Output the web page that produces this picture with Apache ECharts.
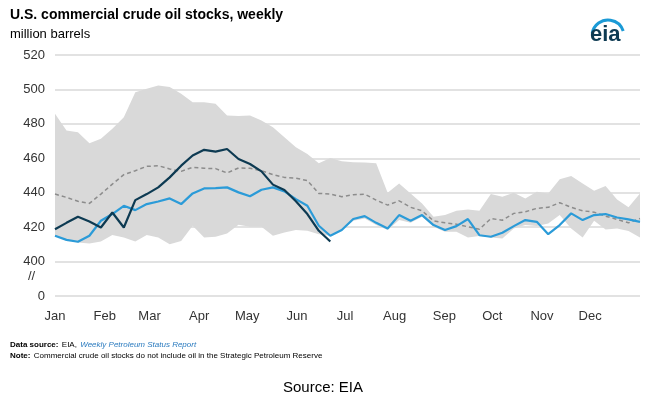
<!DOCTYPE html>
<html>
<head>
<meta charset="utf-8">
<script src="https://cdn.jsdelivr.net/npm/echarts@6/dist/echarts.min.js"></script>
<style>html,body{margin:0;padding:0;background:#fff}#c{width:655px;height:409px}</style>
</head>
<body>
<div id="c"></div>
<script>
// weekly values, million barrels (week index 0..51)
const y2026 = [418.8, 422.5, 426.0, 423.3, 419.8, 428.5, 419.8, 435.7, 439.2, 443.1, 448.9, 455.7, 461.6, 464.9, 463.9, 465.4, 459.6, 456.7, 452.4, 444.7, 441.6, 435.0, 427.6, 417.9, 411.7];
const y2025 = [415.0, 412.6, 411.5, 415.0, 423.7, 427.6, 432.4, 429.9, 433.4, 434.9, 436.7, 433.4, 439.6, 442.5, 442.7, 443.1, 440.2, 437.9, 441.7, 443.1, 440.8, 436.3, 432.4, 420.8, 415.0, 418.3, 424.7,
  426.4, 422.5, 419.2, 427.0, 423.7, 427.0, 421.2, 418.3, 420.6, 424.7, 415.3, 414.4, 416.7, 420.6, 424.1, 423.1, 415.9, 421.2, 428.0, 424.1, 427.0, 427.6, 425.6, 424.5, 423.1];
const avg = [439.2, 437.3, 435.0, 433.8, 439.2, 445.0, 450.5, 452.8, 455.3, 455.7, 453.8, 452.4, 454.8, 454.2, 454.0, 451.5, 454.4, 454.2, 452.8, 450.5, 448.9, 448.5, 447.0, 439.6, 439.2, 437.7, 438.8,
  439.2, 435.7, 432.8, 435.3, 431.5, 429.5, 423.7, 422.5, 421.7, 420.2, 418.8, 425.0, 424.0, 428.0, 428.9, 430.9, 431.5, 434.2, 431.5, 429.5, 428.7, 426.4, 424.5, 422.5, 425.0];
const rangeHigh = [485.8, 476.1, 475.1, 468.7, 471.3, 477.1, 483.9, 498.4, 500.4, 502.3, 501.4, 497.5, 492.6, 492.6, 491.7, 484.9, 484.5, 484.9, 481.9, 478.1, 472.2, 466.4, 462.5, 457.1, 460.2, 458.3, 457.7,
  457.5, 457.1, 440.0, 445.4, 439.6, 433.8, 426.0, 427.0, 429.5, 430.3, 429.5, 439.2, 437.7, 440.0, 436.7, 440.6, 439.6, 447.8, 449.7, 445.4, 441.2, 443.9, 436.1, 431.5, 439.6];
const rangeLow = [415.0, 413.0, 411.1, 410.5, 411.7, 415.5, 414.0, 411.7, 415.5, 414.0, 410.1, 412.0, 420.8, 414.0, 414.4, 416.3, 421.4, 420.2, 420.2, 415.0, 416.9, 418.3, 417.9, 415.9, 415.0, 418.3, 423.7,
  425.0, 421.2, 418.3, 424.1, 422.5, 426.0, 420.2, 417.3, 417.3, 414.0, 414.8, 414.0, 413.4, 419.2, 421.2, 420.6, 422.1, 427.0, 419.2, 414.0, 423.7, 418.6, 419.2, 417.8, 414.0];
const months = ['Jan', 'Feb', 'Mar', 'Apr', 'May', 'Jun', 'Jul', 'Aug', 'Sep', 'Oct', 'Nov', 'Dec'];
const monthWeeks = [0, 4.33, 8.24, 12.57, 16.76, 21.09, 25.28, 29.61, 33.94, 38.13, 42.46, 46.65];
const weeks = rangeHigh.map((v, i) => i);

const diff = rangeHigh.map((h, i) => +(h - rangeLow[i]).toFixed(1));
const font = 'Arial, "Liberation Sans", sans-serif';

const chart = echarts.init(document.getElementById('c'));
chart.setOption({
  animation: false,
  textStyle: { fontFamily: font },
  grid: { left: 55, right: 15, top: 55, bottom: 113 },
  xAxis: [{
    type: 'category', data: weeks, boundaryGap: false,
    axisLine: { show: false }, axisTick: { show: false }, axisLabel: { show: false }, splitLine: { show: false }
  }, {
    type: 'value', min: 0, max: 51, position: 'bottom',
    splitLine: { show: false }, axisLine: { show: false }, axisTick: { show: false },
    axisLabel: {
      customValues: monthWeeks, color: '#333', fontSize: 13, margin: 14,
      formatter: v => months[monthWeeks.findIndex(m => Math.abs(m - v) < 0.01)] || ''
    }
  }],
  yAxis: {
    type: 'value', min: 380, max: 520, interval: 20,
    axisLine: { show: false }, axisTick: { show: false },
    splitLine: { lineStyle: { color: '#d9d9d9', width: 1.5 } },
    axisLabel: { color: '#333', fontSize: 13, margin: 10, formatter: v => v === 380 ? '0' : String(v) }
  },
  series: [
    { type: 'line', data: rangeLow, stack: 'r', symbol: 'none', lineStyle: { opacity: 0 }, silent: true },
    { type: 'line', data: diff, stack: 'r', symbol: 'none', lineStyle: { opacity: 0 }, areaStyle: { color: '#d9d9d9', opacity: 1 }, silent: true },
    { type: 'line', data: avg, symbol: 'none', lineStyle: { color: '#8c8c8c', width: 1.5, type: [4, 3] } },
    { type: 'line', data: y2025, symbol: 'none', lineStyle: { color: '#2b9bd8', width: 2.2 } },
    { type: 'line', data: y2026, symbol: 'none', lineStyle: { color: '#0d3a52', width: 2.2 } }
  ],
  graphic: [
    { type: 'text', left: 10, top: 8, style: { text: 'U.S. commercial crude oil stocks, weekly', font: 'bold 14px ' + font, fill: '#000' } },
    { type: 'text', left: 10, top: 28, style: { text: 'million barrels', font: '13px ' + font, fill: '#000' } },
    { type: 'text', left: 28, top: 270, style: { text: '//', font: '13px ' + font, fill: '#333' } },
    { type: 'text', left: 133, top: 102, style: { text: '2021–2025\nrange', font: '14px ' + font, fill: '#8c8c8c', lineHeight: 17 } },
    { type: 'text', left: 58, top: 152, style: { text: '2021–2025\naverage', font: '14px ' + font, fill: '#595959', lineHeight: 17 } },
    { type: 'text', left: 250, top: 143, style: { text: '2026', font: 'bold 14px ' + font, fill: '#0d3a52' } },
    { type: 'text', left: 210, top: 202, style: { text: '2025', font: 'bold 14px ' + font, fill: '#2b9bd8' } },
    { type: 'arc', shape: { cx: 608, cy: 36, r: 16, startAngle: -Math.PI * 0.95, endAngle: -Math.PI * 0.1 }, style: { stroke: '#1b9ad6', lineWidth: 3, fill: null } },
    { type: 'text', left: 590, top: 24, style: { text: 'eia', font: 'bold 22px ' + font, fill: '#0d3a52' } },
    { type: 'text', left: 10, top: 339, style: { rich: { b: { fontWeight: 'bold', fontSize: 8, fill: '#000' }, n: { fontSize: 8, fill: '#000' }, l: { fontSize: 8, fontStyle: 'italic', fill: '#2b7bbf' } }, text: '{b|Data source:} {n|EIA,} {l|Weekly Petroleum Status Report}' } },
    { type: 'text', left: 10, top: 350, style: { rich: { b: { fontWeight: 'bold', fontSize: 8, fill: '#000' }, n: { fontSize: 8, fill: '#000' } }, text: '{b|Note:} {n|Commercial crude oil stocks do not include oil in the Strategic Petroleum Reserve}' } },
    { type: 'text', left: 283, top: 380, style: { text: 'Source: EIA', font: '15px ' + font, fill: '#000' } }
  ]
});
</script>
</body>
</html>
